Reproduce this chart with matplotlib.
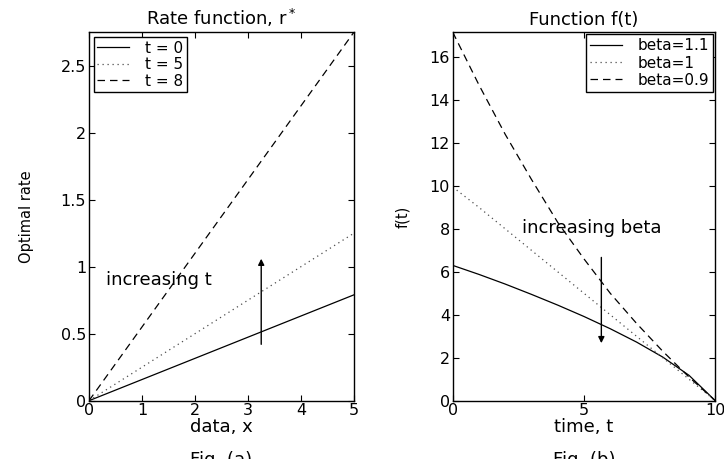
import matplotlib
matplotlib.use("Agg")
import matplotlib.pyplot as plt

plt.rcParams['font.family'] = ['DejaVu Sans']

# Fig. (a): optimal rate against data x, straight lines through the origin
rate_x = [0, 5]
rate_t0 = [0, 0.79]
rate_t5 = [0, 1.25]
rate_t8 = [0, 2.75]
rate_labels = ['t = 0', 't = 5', 't = 8']

# Fig. (b): f(t) for three beta values
time_t = [0, 1, 2, 3, 4, 5, 6, 7, 8, 9, 10]
f_beta11 = [6.3, 5.88, 5.43, 4.95, 4.45, 3.92, 3.35, 2.73, 2.03, 1.18, 0]
f_beta10 = [9.95, 9.0, 8.0, 7.0, 6.0, 5.0, 4.0, 3.0, 2.0, 1.0, 0]
f_beta09 = [17.16, 14.7, 12.4, 10.3, 8.3, 6.6, 5.0, 3.6, 2.3, 1.1, 0]
f_labels = ['beta=1.1', 'beta=1', 'beta=0.9']

fig = plt.figure(figsize=(7.24, 4.59), dpi=100)
ax1 = fig.add_axes([0.1229, 0.127, 0.366, 0.803])
ax2 = fig.add_axes([0.6253, 0.127, 0.3627, 0.803])

lw = 0.9
dash = (0, (6, 4))
dots = (0, (1, 3))

ax1.plot(rate_x, rate_t0, color='k', lw=lw, label=rate_labels[0])
ax1.plot(rate_x, rate_t5, color='0.3', lw=lw, linestyle=dots, label=rate_labels[1])
ax1.plot(rate_x, rate_t8, color='k', lw=lw, linestyle=dash, label=rate_labels[2])
ax1.set_xlim(0, 5)
ax1.set_ylim(0, 2.75)
ax1.set_xticks([0, 1, 2, 3, 4, 5])
ax1.set_yticks([0, 0.5, 1, 1.5, 2, 2.5])
ax1.set_yticklabels(['0', '0.5', '1', '1.5', '2', '2.5'])
ax1.set_title('Rate function, r$^*$', fontsize=13, pad=5)
ax1.set_xlabel('data, x', fontsize=13, labelpad=0)
ax1.set_ylabel('Optimal rate', fontsize=10.5, labelpad=19)
ax1.annotate('', xy=(3.25, 1.08), xytext=(3.25, 0.4),
             arrowprops=dict(arrowstyle='-|>', color='k', lw=1, mutation_scale=9))
ax1.text(0.32, 0.9, 'increasing t', fontsize=13, va='center', ha='left')
ax1.legend(loc='upper left', fontsize=11, frameon=True, fancybox=False,
           edgecolor='k', framealpha=1, handlelength=2.1, borderpad=0.25,
           labelspacing=0.1, handletextpad=1.0, borderaxespad=0.3)

ax2.plot(time_t, f_beta11, color='k', lw=lw, label=f_labels[0])
ax2.plot(time_t, f_beta10, color='0.3', lw=lw, linestyle=dots, label=f_labels[1])
ax2.plot(time_t, f_beta09, color='k', lw=lw, linestyle=dash, label=f_labels[2])
ax2.set_xlim(0, 10)
ax2.set_ylim(0, 17.16)
ax2.set_xticks([0, 5, 10])
ax2.set_yticks([0, 2, 4, 6, 8, 10, 12, 14, 16])
ax2.set_title('Function f(t)', fontsize=13, pad=5)
ax2.set_xlabel('time, t', fontsize=13, labelpad=0)
ax2.set_ylabel('f(t)', fontsize=10.5, labelpad=14)
ax2.annotate('', xy=(5.66, 2.55), xytext=(5.66, 6.8),
             arrowprops=dict(arrowstyle='-|>', color='k', lw=1, mutation_scale=9))
ax2.text(2.63, 8.05, 'increasing beta', fontsize=13, va='center', ha='left')
ax2.legend(loc='upper right', fontsize=11, frameon=True, fancybox=False,
           edgecolor='k', framealpha=1, handlelength=2.1, borderpad=0.25,
           labelspacing=0.15, handletextpad=1.0, borderaxespad=0.15)

# figure captions under each panel, cut by the lower edge as in the original
fig.text(0.1229 + 0.366 / 2, 0.0185, 'Fig. (a)', fontsize=13, ha='center', va='top')
fig.text(0.6253 + 0.3627 / 2, 0.0185, 'Fig. (b)', fontsize=13, ha='center', va='top')

for ax in (ax1, ax2):
    ax.tick_params(direction='in', top=True, right=True, length=4, width=0.8,
                   labelsize=11.5, pad=2)
    for sp in ax.spines.values():
        sp.set_linewidth(1.0)
        sp.set_color('k')

fig.savefig('out.png', dpi=100)
